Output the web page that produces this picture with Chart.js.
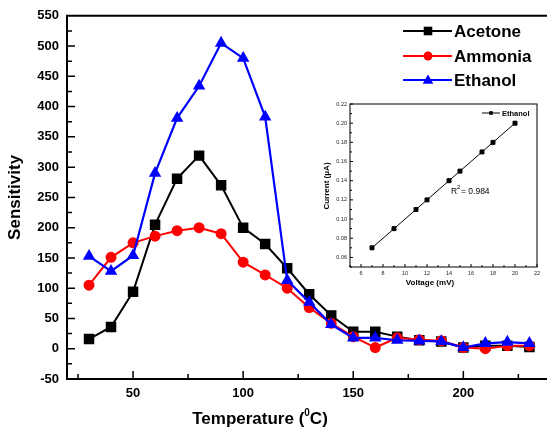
<!DOCTYPE html>
<html>
<head>
<meta charset="utf-8">
<script src="https://cdn.jsdelivr.net/npm/chart.js@4/dist/chart.umd.min.js"></script>
<style>
html, body { margin: 0; padding: 0; background: #fff; overflow: hidden; }
#wrap { position: relative; width: 547px; height: 430px; }
#main { position: absolute; left: 0; top: 0; }
#inset { position: absolute; left: 300px; top: 95px; }
</style>
</head>
<body>
<div id="wrap">
  <canvas id="main" width="547" height="430"></canvas>
  <canvas id="inset" width="247" height="200"></canvas>
</div>
<script>
// main plot data (sensitivity vs temperature)
const temperature = [30, 40, 50, 60, 70, 80, 90, 100, 110, 120, 130, 140, 150, 160, 170, 180, 190, 200, 210, 220, 230];
const acetone = [16, 36, 94, 205, 281, 319, 270, 200, 173, 133, 90, 55, 28, 28, 20, 14, 12, 2, 5, 5, 3];
const ammonia = [105, 151, 175, 186, 195, 200, 190, 143, 122, 100, 68, 42, 20, 2, 18, 15, 13, 2, 0, 5, 5];
const ethanol = [153, 128, 154, 290, 381, 434, 505, 480, 383, 113, 77, 40, 18, 18, 14, 13, 12, 2, 9, 11, 9];
const tempTicks = [50, 100, 150, 200];
const tempMinor = [25, 75, 125, 175, 225];

// inset data (current vs voltage, ethanol)
const voltage = [7, 9, 11, 12, 14, 15, 17, 18, 20];
const current = [0.07, 0.09, 0.11, 0.12, 0.14, 0.15, 0.17, 0.18, 0.20];
const voltTicks = [6, 8, 10, 12, 14, 16, 18, 20, 22];
const currTicks = [0.06, 0.08, 0.10, 0.12, 0.14, 0.16, 0.18, 0.20, 0.22];

const FONT = 'Arial, "Liberation Sans", sans-serif';

function toXY(xs, ys) {
  return xs.map((x, i) => ({ x: x, y: ys[i] }));
}

function marker(ctx, style, x, y, r, color) {
  ctx.fillStyle = color;
  ctx.beginPath();
  if (style === 'rect') {
    ctx.rect(x - r, y - r, 2 * r, 2 * r);
  } else if (style === 'circle') {
    ctx.arc(x, y, r, 0, Math.PI * 2);
  } else {
    ctx.moveTo(x, y - r * 1.1);
    ctx.lineTo(x + r * 1.05, y + r * 0.75);
    ctx.lineTo(x - r * 1.05, y + r * 0.75);
    ctx.closePath();
  }
  ctx.fill();
}

// frame, inside ticks, x title and legend for main chart
const mainDecor = {
  id: 'mainDecor',
  afterDraw(chart) {
    const { ctx, chartArea: a, scales: { x, y } } = chart;
    ctx.save();
    ctx.strokeStyle = '#000';
    ctx.lineWidth = 2;
    ctx.beginPath();
    ctx.moveTo(a.right + 2, a.top);
    ctx.lineTo(a.left, a.top);
    ctx.lineTo(a.left, a.bottom);
    ctx.lineTo(a.right + 2, a.bottom);
    ctx.stroke();

    ctx.lineWidth = 1.5;
    ctx.beginPath();
    tempTicks.forEach(v => {
      const px = x.getPixelForValue(v);
      ctx.moveTo(px, a.bottom); ctx.lineTo(px, a.bottom - 8);
    });
    tempMinor.forEach(v => {
      const px = x.getPixelForValue(v);
      ctx.moveTo(px, a.bottom); ctx.lineTo(px, a.bottom - 5);
    });
    for (let v = -25; v < 550; v += 25) {
      const py = y.getPixelForValue(v);
      const len = v % 50 === 0 ? 8 : 5;
      ctx.moveTo(a.left, py); ctx.lineTo(a.left + len, py);
    }
    ctx.stroke();

    // x axis title with superscript
    ctx.fillStyle = '#000';
    ctx.textBaseline = 'alphabetic';
    ctx.textAlign = 'left';
    const big = 'bold 17px ' + FONT, small = 'bold 10px ' + FONT;
    const p1 = 'Temperature (', sup = '0', p2 = 'C)';
    ctx.font = big; const w1 = ctx.measureText(p1).width, w3 = ctx.measureText(p2).width;
    ctx.font = small; const w2 = ctx.measureText(sup).width;
    let tx = 260 - (w1 + w2 + w3) / 2;
    const ty = 424;
    ctx.font = big; ctx.fillText(p1, tx, ty); tx += w1;
    ctx.font = small; ctx.fillText(sup, tx, ty - 8); tx += w2;
    ctx.font = big; ctx.fillText(p2, tx, ty);

    // legend
    const rows = [
      { label: 'Acetone', color: '#000000', style: 'rect', r: 4.3, y: 31 },
      { label: 'Ammonia', color: '#ff0000', style: 'circle', r: 4.5, y: 56 },
      { label: 'Ethanol', color: '#0000ff', style: 'triangle', r: 5, y: 80 }
    ];
    rows.forEach(row => {
      ctx.strokeStyle = row.color;
      ctx.lineWidth = 2;
      ctx.beginPath();
      ctx.moveTo(403, row.y); ctx.lineTo(452, row.y);
      ctx.stroke();
      marker(ctx, row.style, 428, row.y, row.r, row.color);
      ctx.fillStyle = '#000';
      ctx.font = 'bold 17px ' + FONT;
      ctx.textBaseline = 'middle';
      ctx.fillText(row.label, 454, row.y + 1);
    });
    ctx.restore();
  }
};

new Chart(document.getElementById('main'), {
  type: 'line',
  data: {
    datasets: [
      {
        label: 'Ethanol',
        data: toXY(temperature, ethanol),
        borderColor: '#0000ff', backgroundColor: '#0000ff',
        borderWidth: 2.2, pointStyle: 'triangle', pointRadius: 5,
        order: 0
      },
      {
        label: 'Ammonia',
        data: toXY(temperature, ammonia),
        borderColor: '#ff0000', backgroundColor: '#ff0000',
        borderWidth: 2, pointStyle: 'circle', pointRadius: 4.5,
        order: 1
      },
      {
        label: 'Acetone',
        data: toXY(temperature, acetone),
        borderColor: '#000000', backgroundColor: '#000000',
        borderWidth: 2, pointStyle: 'rect', pointRadius: 6,
        order: 2
      }
    ]
  },
  options: {
    responsive: false,
    animation: false,
    clip: false,
    layout: { autoPadding: false, padding: { top: 14, right: 0, left: 0, bottom: 0 } },
    elements: { line: { tension: 0 }, point: { borderWidth: 0 } },
    plugins: { legend: { display: false }, tooltip: { enabled: false } },
    scales: {
      x: {
        type: 'linear', min: 20, max: 238,
        afterBuildTicks: s => { s.ticks = tempTicks.map(v => ({ value: v })); },
        afterFit: s => { s.height = 51; },
        grid: { display: false, drawTicks: false },
        border: { display: false },
        ticks: { color: '#000', padding: 7, font: { family: FONT, size: 13, weight: 'bold' } }
      },
      y: {
        type: 'linear', min: -50, max: 550,
        ticks: { stepSize: 50, color: '#000', padding: 8, font: { family: FONT, size: 13, weight: 'bold' } },
        afterFit: s => { s.width = 67; },
        grid: { display: false, drawTicks: false },
        border: { display: false },
        title: {
          display: true, text: 'Sensitivity', color: '#000',
          font: { family: FONT, size: 17, weight: 'bold' },
          padding: { top: 5, bottom: 0 }
        }
      }
    }
  },
  plugins: [mainDecor]
});

// inset frame, ticks, titles, legend, R2
const insetDecor = {
  id: 'insetDecor',
  afterDraw(chart) {
    const { ctx, chartArea: a, scales: { x, y } } = chart;
    ctx.save();
    ctx.strokeStyle = '#000';
    ctx.lineWidth = 1;
    ctx.strokeRect(a.left, a.top, a.right - a.left, a.bottom - a.top);
    ctx.beginPath();
    for (let v = 5; v <= 22; v++) {
      const px = x.getPixelForValue(v);
      const len = v % 2 === 0 ? 3 : 2;
      ctx.moveTo(px, a.bottom); ctx.lineTo(px, a.bottom - len);
    }
    for (let k = 5; k <= 22; k++) {
      const py = y.getPixelForValue(k / 100);
      const len = k % 2 === 0 ? 3 : 2;
      ctx.moveTo(a.left, py); ctx.lineTo(a.left + len, py);
    }
    ctx.stroke();

    ctx.fillStyle = '#000';
    ctx.font = 'bold 8px ' + FONT;
    ctx.textAlign = 'center';
    ctx.textBaseline = 'middle';
    ctx.fillText('Voltage (mV)', 130, 188);
    ctx.save();
    ctx.translate(27, 91);
    ctx.rotate(-Math.PI / 2);
    ctx.fillText('Current (\u03bcA)', 0, 0);
    ctx.restore();

    // legend
    ctx.lineWidth = 1;
    ctx.beginPath();
    ctx.moveTo(182, 18); ctx.lineTo(200, 18);
    ctx.stroke();
    marker(ctx, 'rect', 191, 18, 1.8, '#000');
    ctx.textAlign = 'left';
    ctx.font = 'bold 7.5px ' + FONT;
    ctx.fillText('Ethanol', 202, 18.5);

    // R^2
    ctx.textBaseline = 'alphabetic';
    ctx.font = '8.5px ' + FONT;
    ctx.fillText('R', 151, 99);
    ctx.font = '6px ' + FONT;
    ctx.fillText('2', 157, 94);
    ctx.font = '8.5px ' + FONT;
    ctx.fillText('= 0.984', 161, 99);
    ctx.restore();
  }
};

new Chart(document.getElementById('inset'), {
  type: 'line',
  data: {
    datasets: [{
      label: 'Ethanol',
      data: toXY(voltage, current),
      borderColor: '#000', backgroundColor: '#000',
      borderWidth: 1, pointStyle: 'rect', pointRadius: 2.8
    }]
  },
  options: {
    responsive: false,
    animation: false,
    clip: false,
    layout: { autoPadding: false, padding: { top: 9, right: 10, left: 0, bottom: 0 } },
    elements: { line: { tension: 0 }, point: { borderWidth: 0 } },
    plugins: { legend: { display: false }, tooltip: { enabled: false } },
    scales: {
      x: {
        type: 'linear', min: 5, max: 22,
        afterBuildTicks: s => { s.ticks = voltTicks.map(v => ({ value: v })); },
        afterFit: s => { s.height = 28; },
        grid: { display: false, drawTicks: false },
        border: { display: false },
        ticks: { color: '#222', padding: 3, font: { family: FONT, size: 5.5 } }
      },
      y: {
        type: 'linear', min: 0.05, max: 0.22,
        afterBuildTicks: s => { s.ticks = currTicks.map(v => ({ value: v })); },
        afterFit: s => { s.width = 50; },
        grid: { display: false, drawTicks: false },
        border: { display: false },
        ticks: {
          color: '#222', padding: 3, font: { family: FONT, size: 5.5 },
          callback: v => v.toFixed(2)
        }
      }
    }
  },
  plugins: [insetDecor]
});
</script>
</body>
</html>
